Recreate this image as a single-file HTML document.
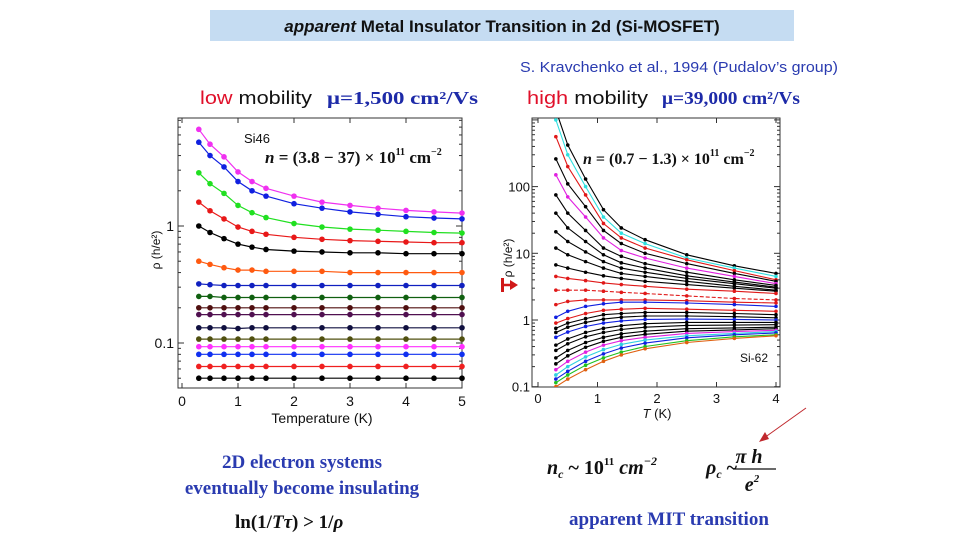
<!DOCTYPE html>
<html><head><meta charset="utf-8"><style>
html,body{margin:0;padding:0;background:#fff;}
svg{display:block;}
.sans{font-family:"Liberation Sans",sans-serif;}
.serif{font-family:"Liberation Serif",serif;}
</style></head><body>
<svg id="s" width="960" height="540" viewBox="0 0 960 540" xmlns="http://www.w3.org/2000/svg">
<rect x="210" y="10" width="584" height="31" fill="#c5dcf2"/>
<text x="502" y="32" text-anchor="middle" class="sans" font-size="17" font-weight="bold" fill="#111"><tspan font-style="italic">apparent</tspan> Metal Insulator Transition in 2d (Si-MOSFET)</text>
<text x="520" y="72" class="sans" font-size="15" fill="#2a3bb0" textLength="318" lengthAdjust="spacingAndGlyphs">S. Kravchenko et al., 1994 (Pudalov’s group)</text>
<text x="200" y="104" class="sans" font-size="18" fill="#111" textLength="112" lengthAdjust="spacingAndGlyphs"><tspan fill="#e0102a">low</tspan> mobility</text>
<text x="327" y="104" class="serif" font-size="18" font-weight="bold" fill="#1d2aa8" textLength="151" lengthAdjust="spacingAndGlyphs">μ=1,500 cm²/Vs</text>
<text x="527" y="104" class="sans" font-size="18" fill="#111" textLength="121" lengthAdjust="spacingAndGlyphs"><tspan fill="#e0102a">high</tspan> mobility</text>
<text x="662" y="104" class="serif" font-size="18" font-weight="bold" fill="#1d2aa8" textLength="138" lengthAdjust="spacingAndGlyphs">μ=39,000 cm²/Vs</text>
<g id="left"></g>
<g id="right"></g>
<text x="302" y="468" text-anchor="middle" class="serif" font-size="19" font-weight="bold" fill="#2a3bb0">2D electron systems</text>
<text x="302" y="494" text-anchor="middle" class="serif" font-size="19" font-weight="bold" fill="#2a3bb0">eventually become insulating</text>
<text x="235" y="528" class="serif" font-size="19" font-weight="bold" fill="#111">ln(1/<tspan font-style="italic">T</tspan><tspan font-style="italic">τ</tspan>) &gt; 1/<tspan font-style="italic">ρ</tspan></text>
<text x="547" y="474" class="serif" font-size="20" font-weight="bold" font-style="italic" fill="#111">n<tspan font-size="12" dy="4">c</tspan><tspan dy="-4" font-style="normal"> ~ 10</tspan><tspan font-size="11" dy="-9" font-style="normal">11</tspan><tspan dy="9"> cm</tspan><tspan font-size="12" dy="-9">−2</tspan></text>
<g class="serif" font-weight="bold" font-style="italic" fill="#111">
<text x="706" y="474" font-size="20">ρ<tspan font-size="12" dy="4">c</tspan><tspan dy="-4" font-style="normal"> ~</tspan></text>
<text x="749" y="463" font-size="20" text-anchor="middle">π h</text>
<line x1="733" y1="469" x2="776" y2="469" stroke="#111" stroke-width="1.3"/>
<text x="752" y="491" font-size="20" text-anchor="middle">e<tspan font-size="11" dy="-9">2</tspan></text>
</g>
<g>
<line x1="806" y1="408" x2="764" y2="438" stroke="#c0282d" stroke-width="1"/>
<polygon points="759,442 765,432 769,439" fill="#c0282d"/>
</g>
<text x="569" y="525" class="serif" font-size="19" font-weight="bold" fill="#2a3bb0">apparent MIT transition</text>
</svg>
<script>
// ---------- LEFT CHART DATA (Si46) ----------
const leftT = [0.3,0.5,0.75,1,1.25,1.5,2,2.5,3,3.5,4,4.5,5];
const leftColors = ["#f030f0","#1020e0","#20e020","#e81818","#000000","#ff5a10","#1020c0","#106010","#501010","#501050","#101040","#505010","#ff30ff","#1030f0","#f02020","#000000"];
const leftSeries = [
[6.7,5.0,3.9,2.9,2.4,2.1,1.8,1.6,1.5,1.42,1.36,1.32,1.29],
[5.2,4.0,3.2,2.4,2.0,1.8,1.55,1.42,1.32,1.26,1.2,1.17,1.15],
[2.85,2.3,1.9,1.5,1.3,1.18,1.05,0.98,0.94,0.92,0.9,0.88,0.87],
[1.6,1.35,1.15,0.98,0.9,0.85,0.8,0.77,0.75,0.74,0.73,0.72,0.72],
[1.0,0.88,0.78,0.7,0.66,0.63,0.61,0.6,0.59,0.59,0.58,0.58,0.58],
[0.5,0.47,0.44,0.42,0.42,0.41,0.41,0.41,0.4,0.4,0.4,0.4,0.4],
[0.32,0.315,0.31,0.31,0.31,0.31,0.31,0.31,0.31,0.31,0.31,0.31,0.31],
[0.25,0.25,0.245,0.245,0.245,0.245,0.245,0.245,0.245,0.245,0.245,0.245,0.245],
[0.2,0.2,0.2,0.2,0.2,0.2,0.2,0.2,0.2,0.2,0.2,0.2,0.2],
[0.175,0.175,0.175,0.175,0.175,0.175,0.175,0.175,0.175,0.175,0.175,0.175,0.175],
[0.135,0.135,0.135,0.133,0.135,0.135,0.135,0.135,0.135,0.135,0.135,0.135,0.135],
[0.108,0.108,0.108,0.108,0.108,0.108,0.108,0.108,0.108,0.108,0.108,0.108,0.108],
[0.093,0.093,0.093,0.093,0.093,0.093,0.093,0.093,0.093,0.093,0.093,0.093,0.093],
[0.08,0.08,0.08,0.08,0.08,0.08,0.08,0.08,0.08,0.08,0.08,0.08,0.08],
[0.063,0.063,0.063,0.063,0.063,0.063,0.063,0.063,0.063,0.063,0.063,0.063,0.063],
[0.05,0.05,0.05,0.05,0.05,0.05,0.05,0.05,0.05,0.05,0.05,0.05,0.05]
];
const leftXTicks = [0,1,2,3,4,5];
const leftYTicks = [1,0.1];
const leftYLabels = ["1","0.1"];

// ---------- RIGHT CHART DATA (Si-62) ----------
const rightT = [0.3,0.5,0.8,1.1,1.4,1.8,2.5,3.3,4];
const rightColors = ["#000","#30e0e0","#e01818","#000","#e020e0","#000","#000","#000","#000","#000","#e01818","#e01818","#e01818","#1020e0","#e01818","#000","#000","#1020e0","#000","#000","#000","#000","#e020e0","#30d0e0","#1020e0","#20c020","#e06010"];
const rightSeries = [
[1400,420,130,45,24,16,9.5,6.5,5],
[1000,300,100,35,20,14,8.5,6,4.5],
[560,200,75,28,17,12,8,5.5,4],
[260,110,50,22,14,10,7,5,3.8],
[150,70,35,17,11,8.5,6,4.5,3.5],
[75,40,22,12,9,7,5.2,4,3.3],
[40,24,15,9.5,7.2,6,4.6,3.7,3.1],
[21,15,10.5,7.5,6,5.2,4.2,3.5,3],
[12,9.5,7.5,6,5,4.5,3.8,3.2,2.8],
[6.7,6,5.2,4.6,4.2,3.8,3.4,3,2.7],
[4.5,4.2,3.9,3.6,3.4,3.2,2.9,2.7,2.5],
[2.8,2.8,2.8,2.7,2.6,2.5,2.3,2.1,2.0],
[1.7,1.9,2.0,2.0,2.0,2.0,1.95,1.85,1.8],
[1.1,1.35,1.6,1.75,1.85,1.85,1.8,1.7,1.6],
[0.9,1.05,1.25,1.4,1.45,1.5,1.45,1.4,1.35],
[0.75,0.9,1.05,1.2,1.25,1.3,1.3,1.25,1.2],
[0.65,0.78,0.92,1.03,1.1,1.15,1.15,1.12,1.08],
[0.55,0.66,0.8,0.9,0.97,1.02,1.03,1.02,1.0],
[0.42,0.52,0.65,0.75,0.82,0.88,0.92,0.92,0.92],
[0.35,0.44,0.56,0.65,0.72,0.78,0.83,0.84,0.85],
[0.27,0.35,0.46,0.55,0.62,0.68,0.74,0.76,0.78],
[0.22,0.29,0.39,0.48,0.55,0.61,0.68,0.71,0.74],
[0.18,0.24,0.33,0.42,0.49,0.55,0.63,0.67,0.7],
[0.15,0.2,0.28,0.36,0.43,0.5,0.58,0.63,0.67],
[0.13,0.17,0.24,0.31,0.38,0.45,0.54,0.6,0.64],
[0.115,0.15,0.21,0.27,0.33,0.4,0.49,0.56,0.6],
[0.1,0.13,0.18,0.24,0.3,0.37,0.46,0.53,0.58]
];
const rightXTicks = [0,1,2,3,4];
const rightYTicks = [100,10,1,0.1];
const rightYLabels = ["100","10","1","0.1"];

const NS = "http://www.w3.org/2000/svg";
function mk(parent, tag, attrs, text){
  const e = document.createElementNS(NS, tag);
  for (const k in attrs) e.setAttribute(k, attrs[k]);
  if (text !== undefined) e.textContent = text;
  parent.appendChild(e);
  return e;
}

const L = {x0:182, x1:462, top:118, bot:388, y1:226, dec:117, xmax:5};
const lx = t => L.x0 + (t/L.xmax)*(L.x1-L.x0);
const ly = v => L.y1 - Math.log10(v)*L.dec;
const R = {x0:538, x1:776, right:780, top:118, bot:387, y1:320, dec:66.7, xmax:4};
const rx = t => R.x0 + (t/R.xmax)*(R.x1-R.x0);
const ry = v => R.y1 - Math.log10(v)*R.dec;

function clipPath(id, x, y, w, h){
  const defs = mk(document.getElementById('s'), 'defs', {});
  const cp = mk(defs, 'clipPath', {id:id});
  mk(cp, 'rect', {x:x, y:y, width:w, height:h});
}

// ----- left chart -----
const lg = document.getElementById('left');
clipPath('lclip', L.x0-4, L.top, L.x1-L.x0+8, L.bot-L.top);
const lframe = mk(lg, 'rect', {x:L.x0-4, y:L.top, width:L.x1-L.x0+4, height:L.bot-L.top, fill:'none', stroke:'#333', 'stroke-width':1});


leftXTicks.forEach(t=>{
  mk(lg,'line',{x1:lx(t),x2:lx(t),y1:L.bot,y2:L.bot-5,stroke:'#333'});
  mk(lg,'line',{x1:lx(t),x2:lx(t),y1:L.top,y2:L.top+5,stroke:'#333'});
  const tl = mk(lg,'text',{x:lx(t),y:L.bot+18,'text-anchor':'middle','font-size':14,class:'sans',fill:'#111'}, String(t));
  
  
});
for (let d=-2; d<=0; d++){ for (let m=1;m<10;m++){ const v=m*Math.pow(10,d); const y=ly(v); if(y<L.top||y>L.bot) continue;
  const w = m===1?6:3;
  mk(lg,'line',{x1:L.x0-4,x2:L.x0-4+w,y1:y,y2:y,stroke:'#333'});
  mk(lg,'line',{x1:L.x1,x2:L.x1-w,y1:y,y2:y,stroke:'#333'}); } }
leftYTicks.forEach((v,i)=>{
  const tl = mk(lg,'text',{x:L.x0-8,y:ly(v)+5,'text-anchor':'end','font-size':14,class:'sans',fill:'#111'}, leftYLabels[i]);
  
  
});
const lxt = mk(lg,'text',{x:(L.x0+L.x1)/2,y:L.bot+35,'text-anchor':'middle','font-size':14,class:'sans',fill:'#111'},'Temperature (K)');


const lyt = mk(lg,'text',{transform:'translate(160,250) rotate(-90)','text-anchor':'middle','font-size':12,class:'sans',fill:'#111'},'ρ (h/e²)');


const lsi = mk(lg,'text',{x:244,y:143,'font-size':13,class:'sans',fill:'#111'},'Si46');


const lf = mk(lg,'text',{x:265,y:163,'font-size':17,class:'serif','font-weight':'bold',fill:'#111'},'');
lf.innerHTML = '<tspan font-style="italic">n</tspan> = (3.8 − 37) × 10<tspan font-size="10" dy="-8">11</tspan><tspan dy="8"> cm</tspan><tspan font-size="10" dy="-8">−2</tspan>';


const lcurves = mk(lg,'g',{'clip-path':'url(#lclip)'});
leftSeries.forEach((vals,i)=>{
  const c = leftColors[i];
  const pts = vals.map((v,j)=>lx(leftT[j]).toFixed(1)+','+ly(v).toFixed(1)).join(' ');
  const pl = mk(lcurves,'polyline',{points:pts,fill:'none',stroke:c,'stroke-width':1.2});
  
  
  vals.forEach((v,j)=>{
    const pt = mk(lcurves,'circle',{cx:lx(leftT[j]),cy:ly(v),r:2.8,fill:c});
    
    
  });
});

// ----- right chart -----
const rg = document.getElementById('right');
clipPath('rclip', R.x0-6, R.top, R.right-R.x0+6, R.bot-R.top);
const rframe = mk(rg,'rect',{x:R.x0-6,y:R.top,width:R.right-R.x0+6,height:R.bot-R.top,fill:'none',stroke:'#333','stroke-width':1});


rightXTicks.forEach(t=>{
  mk(rg,'line',{x1:rx(t),x2:rx(t),y1:R.bot,y2:R.bot-5,stroke:'#333'});
  mk(rg,'line',{x1:rx(t),x2:rx(t),y1:R.top,y2:R.top+5,stroke:'#333'});
  const tl = mk(rg,'text',{x:rx(t),y:R.bot+16,'text-anchor':'middle','font-size':13,class:'sans',fill:'#111'}, String(t));
  
  
});
for (let d=-1; d<=3; d++){ for (let m=1;m<10;m++){ const v=m*Math.pow(10,d); const y=ry(v); if(y<R.top||y>R.bot) continue;
  const w = m===1?6:3;
  mk(rg,'line',{x1:R.x0-6,x2:R.x0-6+w,y1:y,y2:y,stroke:'#333'});
  mk(rg,'line',{x1:R.right,x2:R.right-w,y1:y,y2:y,stroke:'#333'}); } }
rightYTicks.forEach((v,i)=>{
  const tl = mk(rg,'text',{x:R.x0-8,y:ry(v)+5,'text-anchor':'end','font-size':13,class:'sans',fill:'#111'}, rightYLabels[i]);
  
  
});
const rxt = mk(rg,'text',{x:(R.x0+R.x1)/2,y:R.bot+31,'text-anchor':'middle','font-size':13,class:'sans',fill:'#111'},'');
rxt.innerHTML = '<tspan font-style="italic">T</tspan> (K)';


const ryt = mk(rg,'text',{transform:'translate(512,258) rotate(-90)','text-anchor':'middle','font-size':12,class:'sans',fill:'#111'},'ρ  (h/e²)');


const rarr = mk(rg,'g',{});


mk(rarr,'rect',{x:501,y:278,width:3,height:14,fill:'#d01818'});
mk(rarr,'line',{x1:503,y1:285,x2:512,y2:285,stroke:'#d01818','stroke-width':2.5});
mk(rarr,'polygon',{points:'518,285 510,280 510,290',fill:'#d01818'});
const rsi = mk(rg,'text',{x:740,y:362,'font-size':12,class:'sans',fill:'#111'},'Si-62');


const rcurves = mk(rg,'g',{'clip-path':'url(#rclip)'});
rightSeries.forEach((vals,i)=>{
  const c = rightColors[i];
  const pts = vals.map((v,j)=>rx(rightT[j]).toFixed(1)+','+ry(v).toFixed(1)).join(' ');
  const attrs = {points:pts,fill:'none',stroke:c,'stroke-width':1.1};
  if (i===11) attrs['stroke-dasharray']='4,2';
  const pl = mk(rcurves,'polyline',attrs);
  
  
  vals.forEach((v,j)=>{
    const pt = mk(rcurves,'circle',{cx:rx(rightT[j]),cy:ry(v),r:1.8,fill:c});
    
    
  });
});
const rf = mk(rg,'text',{x:583,y:164,'font-size':16,class:'serif','font-weight':'bold',fill:'#111'},'');
rf.innerHTML = '<tspan font-style="italic">n</tspan> = (0.7 − 1.3) × 10<tspan font-size="10" dy="-8">11</tspan><tspan dy="8"> cm</tspan><tspan font-size="10" dy="-8">−2</tspan>';


</script>
</body></html>
